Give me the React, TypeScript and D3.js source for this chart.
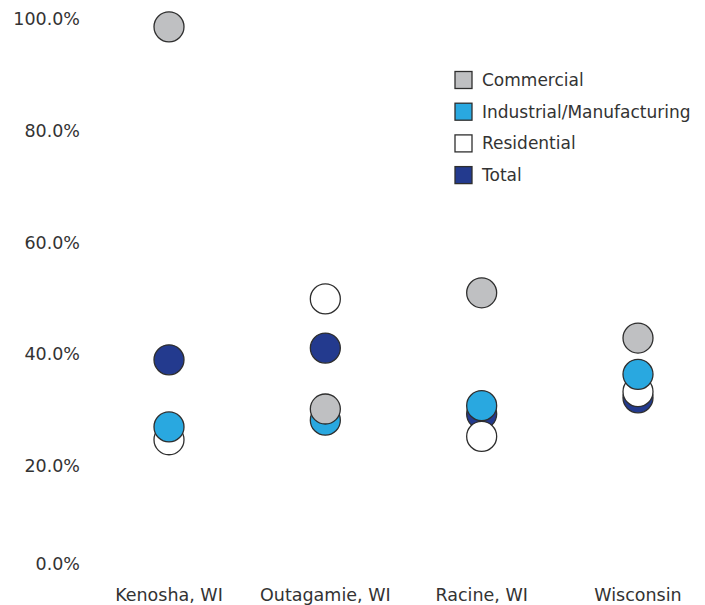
import React from "react";
import * as d3 from "d3";

const categories = ["Kenosha, WI", "Outagamie, WI", "Racine, WI", "Wisconsin"];
const seriesNames = ["Commercial", "Industrial/Manufacturing", "Residential", "Total"];
const commercial = [98.6, 30.2, 51.0, 42.9];
const industrial = [27.0, 28.2, 30.8, 36.4];
const residential = [24.7, 49.9, 25.3, 33.3];
const total = [39.0, 41.1, 29.3, 32.2];
const yTicks = [0, 20, 40, 60, 80, 100];

const colors: Record<string, string> = {
  Commercial: "#bfc0c2",
  "Industrial/Manufacturing": "#29a8e0",
  Residential: "#ffffff",
  Total: "#233a8e",
};

const seriesValues: Record<string, number[]> = {
  Commercial: commercial,
  "Industrial/Manufacturing": industrial,
  Residential: residential,
  Total: total,
};

// paint order: last one ends up on top
const drawOrder = ["Total", "Residential", "Industrial/Manufacturing", "Commercial"];

const W = 705;
const H = 605;
const font = "'DejaVu Sans', sans-serif";

export default function App() {
  const x = d3.scalePoint<string>().domain(categories).range([169, 638]);
  const y = d3.scaleLinear().domain([0, 100]).range([577.75, 19]);
  const fmt = (v: number) => d3.format(".1f")(v) + "%";

  return (
    <svg width={W} height={H} style={{ position: "absolute", left: 0, top: 0 }}>
      <rect width={W} height={H} fill="#ffffff" />
      {yTicks.map((t) => (
        <text
          key={t}
          x={80}
          y={t === 0 ? 564 : y(t)}
          textAnchor="end"
          dominantBaseline="central"
          fontFamily={font}
          fontSize={17.5}
          fill="#333333"
        >
          {fmt(t)}
        </text>
      ))}
      {categories.map((c) => (
        <text
          key={c}
          x={x(c)}
          y={595}
          textAnchor="middle"
          dominantBaseline="central"
          fontFamily={font}
          fontSize={17.5}
          fill="#333333"
        >
          {c}
        </text>
      ))}
      {drawOrder.map((s) =>
        categories.map((c, i) => (
          <circle
            key={s + c}
            cx={x(c)}
            cy={y(seriesValues[s][i])}
            r={15}
            fill={colors[s]}
            stroke="#2e2e2e"
            strokeWidth={1.3}
          />
        ))
      )}
      <g transform="translate(455,0)">
        {seriesNames.map((s, i) => {
          const cy = 80 + i * 31.7;
          return (
            <g key={s}>
              <rect
                x={0}
                y={cy - 8.5}
                width={17}
                height={17}
                fill={colors[s]}
                stroke="#2e2e2e"
                strokeWidth={1.3}
              />
              <text
                x={27}
                y={cy}
                dominantBaseline="central"
                fontFamily={font}
                fontSize={17}
                fill="#333333"
              >
                {s}
              </text>
            </g>
          );
        })}
      </g>
    </svg>
  );
}
